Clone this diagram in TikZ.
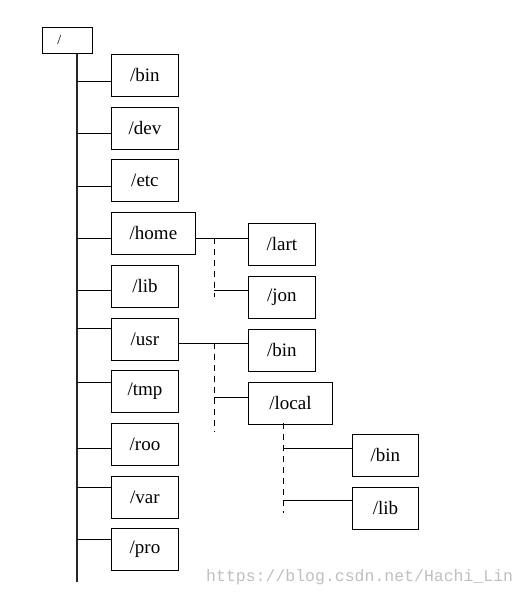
\documentclass[tikz,border=0pt]{standalone}
\usepackage{fontspec}
\setmainfont{Liberation Serif}
\newfontfamily\markfont{Liberation Mono}
\usetikzlibrary{calc,positioning}

\tikzset{
    dirbox/.style = {draw, line width=0.9pt, anchor=north west, minimum height=42pt,
                     inner sep=0pt, font=\fontsize{19}{22}\selectfont},
    rootbox/.style = {draw, line width=0.9pt, anchor=north west, minimum height=26pt,
                      inner xsep=15pt, inner ysep=0pt, text width=20pt, align=left,
                      font=\fontsize{14}{16}\selectfont},
    branch/.style = {line width=0.9pt},
    dotline/.style = {line width=0.9pt, dash pattern=on 6pt off 5pt}
}

\begin{document}
\begin{tikzpicture}[x=1pt, y=-1pt]

        \useasboundingbox (0,0) rectangle (529,596);

        \node[rootbox] (root) at (42,27) {/};
        \coordinate (trunk) at (77,582);
        \draw[line width=1.2pt, black!85] (root.south -| trunk) -- (trunk);

        % first level
        \foreach \n/\w/\y/\b in
        {bin/67/54/81,
         dev/67/107/133,
         etc/67/159/186,
         home/84/212/238,
         lib/67/265/290,
         usr/67/318/328,
         tmp/67/370/382,
         roo/67/423/448,
         var/67/476/487,
         pro/67/528/539
        }
        {
            \node[dirbox, minimum width=\w pt] (\n) at (111,\y) {/\n\hspace{4pt}};
            \draw[branch] (trunk |- 0,\b) -- (\n.west |- 0,\b);
        };

        % /home
        \node[dirbox, minimum width=67pt] (lart) at (248,223) {/lart\hspace{4pt}};
        \node[dirbox, minimum width=67pt] (jon) at (248,276) {/jon\hspace{4pt}};
        \coordinate (H) at (214,238);
        \draw[branch] (home.east |- H) -- (lart.west |- H);
        \draw[dotline] (H) -- (214,297);
        \draw[branch] (214,290) -- (jon.west |- 0,290);

        % /usr
        \node[dirbox, minimum width=67pt] (usrbin) at (248,329) {/bin\hspace{4pt}};
        \node[dirbox, minimum width=84pt] (local) at (248,382) {/local\hspace{4pt}};
        \coordinate (U) at (214,343);
        \draw[branch] (usr.east |- U) -- (usrbin.west |- U);
        \draw[dotline] (U) -- (214,432);
        \draw[branch] (214,397) -- (local.west |- 0,397);

        % /usr/local
        \node[dirbox, minimum width=66pt] (lbin) at (352,434) {/bin\hspace{4pt}};
        \node[dirbox, minimum width=66pt] (llib) at (352,487) {/lib\hspace{4pt}};
        \coordinate (L) at (283,423);
        \draw[dotline] (L) -- (283,513);
        \draw[branch] (283,448) -- (lbin.west |- 0,448);
        \draw[branch] (283,500) -- (llib.west |- 0,500);

        \node[anchor=west, text=black!25, font=\markfont\fontsize{16.5}{18}\selectfont, inner sep=0pt]
            (mark) at (206,577) {https://blog.csdn.net/Hachi\_Lin};

\end{tikzpicture}
\end{document}
